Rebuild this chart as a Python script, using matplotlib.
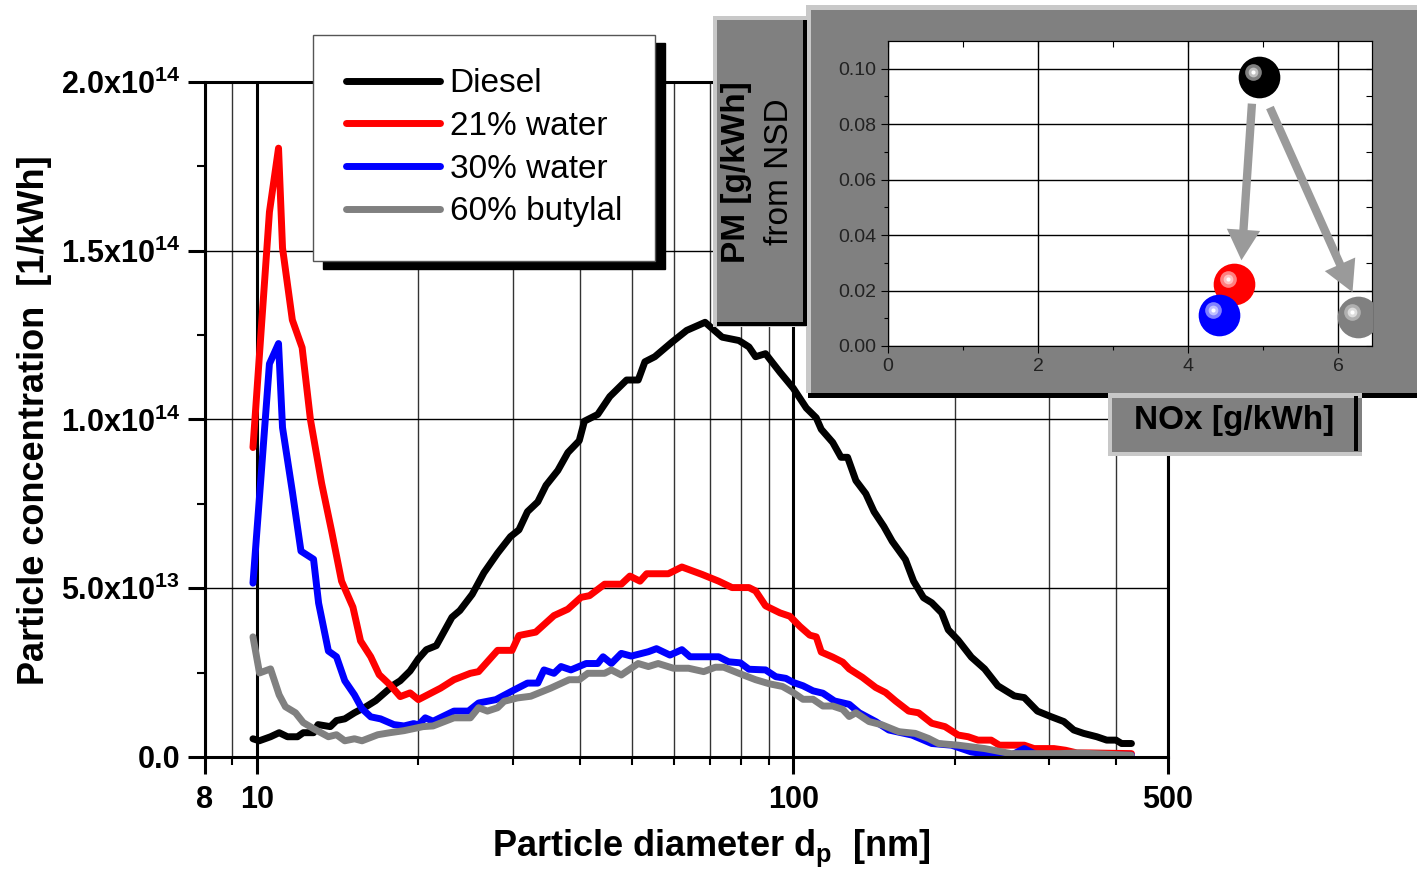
import numpy as np
import matplotlib.pyplot as plt
from matplotlib.patches import Rectangle
from matplotlib.ticker import FixedLocator, NullFormatter
from matplotlib.transforms import offset_copy

plt.rcParams['font.family'] = ['Liberation Sans', 'DejaVu Sans']
plt.rcParams['mathtext.fontset'] = 'custom'
plt.rcParams['mathtext.rm'] = 'Liberation Sans'
plt.rcParams['mathtext.bf'] = 'Liberation Sans:bold'
plt.rcParams['mathtext.it'] = 'Liberation Sans:italic'

# size distributions, diameter in nm, concentration in 1e13 1/kWh
d_diesel = [9.83, 10.1, 10.6, 11.0, 11.4, 11.9, 12.2, 12.75, 13.0, 13.7, 14.07, 14.58, 15.2, 15.97,
            16.65, 17.3, 18.0, 18.5, 19.3, 20.0, 20.7, 21.6, 23.1, 23.9, 25.2, 26.5, 28.1, 29.7, 30.8,
            31.95, 33.4, 34.6, 36.4, 38.0, 39.9, 40.8, 43.2, 45.5, 48.9, 51.4, 52.9, 55.2, 59.4, 63.3,
            68.5, 73.7, 79.2, 82.7, 85.1, 88.8, 94.5, 100, 105.8, 110.4, 112.8, 118.5, 122.8, 126.3,
            130.9, 136.6, 141.5, 147.6, 153, 161.9, 167.7, 175, 181.3, 189.2, 194.6, 203.1, 214.9,
            227.5, 240.8, 258.5, 269.7, 285.4, 302, 319.7, 333.6, 348, 368.3, 384.3, 400, 409.6, 427.4]
n_diesel = [0.54, 0.48, 0.6, 0.72, 0.6, 0.6, 0.72, 0.72, 0.96, 0.9, 1.08, 1.13, 1.31, 1.49,
            1.67, 1.9, 2.14, 2.26, 2.55, 2.91, 3.18, 3.3, 4.14, 4.34, 4.82, 5.46, 6.04, 6.53, 6.73,
            7.27, 7.56, 8.05, 8.49, 9.02, 9.37, 9.95, 10.15, 10.68, 11.17, 11.17, 11.71, 11.86, 12.29, 12.64,
            12.88, 12.44, 12.34, 12.15, 11.86, 11.95, 11.4, 10.93, 10.34, 10.05, 9.71, 9.32, 8.88, 8.88,
            8.19, 7.8, 7.27, 6.83, 6.39, 5.85, 5.21, 4.72, 4.57, 4.27, 3.77, 3.46, 2.96,
            2.61, 2.11, 1.81, 1.76, 1.36, 1.20, 1.05, 0.80, 0.70, 0.60, 0.50, 0.50, 0.40, 0.40]

d_w21 = [9.83, 10.55, 10.97, 11.16, 11.64, 12.14, 12.58, 13.2, 13.78, 14.38, 15.1, 15.6, 16.3, 16.9,
         17.7, 18.5, 19.3, 20.0, 22.0, 23.3, 25.0, 25.9, 28.1, 29.9, 30.8, 33.1, 35.8, 38.0, 40.2,
         41.7, 44.5, 47.8, 49.6, 51.8, 53.3, 58.5, 62.0, 67.6, 72.6, 76.9, 82.7, 85.1, 88.8, 94.5,
         98.6, 102.9, 107.4, 110.4, 112.8, 118.5, 123.7, 127.2, 134.6, 142.5, 148.7, 155.2, 164.2,
         171.3, 181.3, 191.9, 203.1, 212, 221.1, 234, 242.4, 269.7, 281.3, 306.3, 322, 338.2, 357.9, 427.4]
n_w21 = [9.17, 16.15, 18.04, 15.08, 12.95, 12.13, 10.0, 8.11, 6.69, 5.21, 4.44, 3.44, 2.97, 2.44,
         2.14, 1.79, 1.9, 1.7, 2.04, 2.29, 2.48, 2.53, 3.16, 3.16, 3.6, 3.7, 4.19, 4.38, 4.73,
         4.78, 5.12, 5.12, 5.36, 5.21, 5.43, 5.43, 5.63, 5.41, 5.21, 5.02, 5.02, 4.92, 4.48, 4.27,
         4.17, 3.87, 3.61, 3.56, 3.11, 2.96, 2.81, 2.61, 2.36, 2.06, 1.91, 1.66, 1.36,
         1.31, 1.0, 0.9, 0.65, 0.6, 0.5, 0.5, 0.35, 0.35, 0.25, 0.25, 0.2, 0.12, 0.12, 0.1]

d_w30 = [9.83, 10.18, 10.55, 10.97, 11.16, 11.64, 12.08, 12.75, 13.03, 13.59, 14.07, 14.58, 15.2, 15.7,
         16.3, 17.0, 18.0, 18.8, 19.6, 20.0, 20.6, 21.3, 23.3, 24.8, 25.9, 27.9, 30.2, 31.95, 33.4,
         34.3, 35.8, 36.9, 38.5, 41.1, 43.2, 44.2, 45.8, 47.8, 49.9, 53.7, 55.6, 58.9, 62.0, 64.2,
         72.6, 75.8, 79.7, 82.7, 88.8, 92.8, 96.9, 100, 104.3, 108.9, 113.6, 119.4, 127.2, 132.8,
         142.5, 150.8, 166.5, 181.3, 197.4, 214.9, 237.4, 254.8, 269.7, 285.4, 427.4]
n_w30 = [5.15, 8.35, 11.65, 12.25, 9.76, 7.87, 6.1, 5.86, 4.56, 3.14, 2.97, 2.26, 1.84, 1.43,
         1.19, 1.13, 0.96, 0.92, 0.99, 0.95, 1.16, 1.06, 1.36, 1.36, 1.6, 1.7, 1.99, 2.19, 2.19,
         2.58, 2.48, 2.68, 2.58, 2.77, 2.77, 2.97, 2.77, 3.07, 2.99, 3.12, 3.21, 3.02, 3.18, 2.97,
         2.97, 2.82, 2.79, 2.6, 2.58, 2.38, 2.33, 2.21, 2.11, 1.96, 1.89, 1.66, 1.56, 1.31,
         1.05, 0.80, 0.65, 0.4, 0.35, 0.15, 0.05, 0.05, 0.25, 0.05, 0.05]

d_but = [9.83, 10.11, 10.6, 11.0, 11.3, 11.8, 12.2, 12.75, 13.59, 14.07, 14.58, 15.2, 15.7, 16.8,
         17.7, 18.8, 20.4, 21.3, 23.3, 25.0, 25.9, 26.9, 28.1, 28.9, 30.6, 32.4, 35.3, 38.2, 39.9,
         41.4, 44.5, 45.8, 47.8, 51.4, 53.7, 56.0, 59.8, 63.8, 68.1, 71.6, 74.2, 79.2, 85.1, 90.2,
         95.5, 100, 104.3, 108.9, 113.6, 118.5, 123.7, 127.2, 130.9, 138.5, 146.6, 157.4, 168.9,
         178.8, 186.6, 203.1, 227.5, 254.8, 315.2, 338, 427]
n_but = [3.56, 2.49, 2.61, 1.84, 1.49, 1.31, 1.02, 0.84, 0.6, 0.66, 0.48, 0.54, 0.48, 0.66,
         0.72, 0.78, 0.9, 0.92, 1.16, 1.16, 1.46, 1.36, 1.46, 1.65, 1.75, 1.8, 2.04, 2.29, 2.29,
         2.48, 2.48, 2.58, 2.43, 2.77, 2.68, 2.77, 2.63, 2.63, 2.53, 2.66, 2.66, 2.48, 2.29, 2.17,
         2.09, 1.91, 1.71, 1.71, 1.51, 1.51, 1.41, 1.2, 1.31, 1.05, 0.95, 0.75, 0.7,
         0.55, 0.4, 0.35, 0.25, 0.1, 0.1, 0.12, 0.05]

labels = ['Diesel', '21% water', '30% water', '60% butylal']
colors = ['black', '#ff0000', '#0000ff', '#808080']

# inset: NOx vs PM
nox = [4.95, 4.61, 4.41, 6.27]
pm = [0.097, 0.0223, 0.0112, 0.0104]
hl_mid = ['#808080', '#ff8080', '#8080ff', '#b0b0b0']
hl_in = ['#c0c0c0', '#ffc0c0', '#c0c0ff', '#dddddd']

fig = plt.figure(figsize=(14.17, 8.75), dpi=100)
ax = fig.add_axes([205/1417, 1-757/875, 963/1417, 675/875])

for d, n, c, lab in zip([d_diesel, d_w21, d_w30, d_but], [n_diesel, n_w21, n_w30, n_but], colors, labels):
    ax.plot(d, np.array(n)*1e13, color=c, lw=5, label=lab,
            solid_capstyle='round', solid_joinstyle='round')

ax.set_xscale('log')
ax.set_xlim(8, 500)
ax.set_ylim(0, 2e14)
ax.set_xticks([8, 10, 100, 500], labels=['8', '10', '100', '500'], fontsize=22, fontweight='bold')
ax.xaxis.set_minor_locator(FixedLocator([9, 20, 30, 40, 50, 60, 70, 80, 90, 200, 300, 400]))
ax.xaxis.set_minor_formatter(NullFormatter())
ax.set_yticks([0, 5e13, 1e14, 1.5e14, 2e14],
              labels=['0.0', r'$\mathbf{5.0x10^{13}}$', r'$\mathbf{1.0x10^{14}}$',
                      r'$\mathbf{1.5x10^{14}}$', r'$\mathbf{2.0x10^{14}}$'],
              fontsize=22, fontweight='bold')
ax.yaxis.set_minor_locator(FixedLocator([2.5e13, 7.5e13, 1.25e14, 1.75e14]))
ax.tick_params(which='major', direction='out', length=12, width=2.2)
ax.tick_params(axis='x', which='major', pad=8)
ax.tick_params(axis='y', which='major', pad=6)
ax.tick_params(which='minor', direction='out', length=6, width=1.5)
ax.xaxis.grid(True, which='major', color='black', lw=2.2)
ax.xaxis.grid(True, which='minor', color='#333333', lw=1.0)
ax.yaxis.grid(True, which='major', color='black', lw=1.0)
ax.set_axisbelow(True)
for s in ax.spines.values():
    s.set_linewidth(2.2)

leg = ax.legend(loc='upper left', bbox_to_anchor=(313/1417, 1-35/875), bbox_transform=fig.transFigure,
                fontsize=24, fancybox=False, framealpha=1, borderaxespad=0, borderpad=1.0,
                handlelength=2.8, handletextpad=0.3, labelspacing=0.35,
                shadow={'color': 'black', 'alpha': 1, 'ox': 7, 'oy': -6})
leg.get_frame().set_edgecolor('#555555')
leg.get_frame().set_linewidth(1.0)

fig.text(711/1417, 1-848/875, r'Particle diameter d$_\mathbf{p}$  [nm]', fontsize=26,
         fontweight='bold', ha='center', va='center')
fig.text(35/1417, 1-420/875, 'Particle concentration  [1/kWh]', fontsize=26,
         fontweight='bold', ha='center', va='center', rotation=90)

# gray panels behind the inset
ov = fig.add_axes([0, 0, 1, 1], zorder=5)
ov.set_xlim(0, 1417)
ov.set_ylim(875, 0)
ov.axis('off')


def box(x0, y0, x1, y1, c):
    ov.add_patch(Rectangle((x0, y0), x1 - x0, y1 - y0, fc=c, ec='none'))


box(806, 5, 1417, 393, '#c8c8c8')
box(811, 10, 1417, 393, '#808080')
box(808, 393, 1417, 398, 'black')
box(713, 16, 807, 327, '#c8c8c8')
box(717, 20, 803, 322, '#808080')
box(803, 20, 807, 326, 'black')
box(717, 322, 807, 326, 'black')
box(1108, 393, 1362, 456, '#c8c8c8')
box(1112, 398, 1362, 452, '#808080')
box(1354, 396, 1358, 451, 'black')

ov.text(737, 172, 'PM [g/kWh]', rotation=90, ha='center', va='center', fontsize=24, fontweight='bold')
ov.text(779, 172, 'from NSD', rotation=90, ha='center', va='center', fontsize=24)
ov.text(1234, 420, 'NOx [g/kWh]', ha='center', va='center', fontsize=24, fontweight='bold')

ins = fig.add_axes([888/1417, 1-346/875, 484/1417, 305/875], zorder=6)
ins.set_xlim(0, 6.45)
ins.set_ylim(0, 0.11)
ins.set_xticks([0, 2, 4, 6])
ins.xaxis.set_minor_locator(FixedLocator([1, 3, 5]))
ins.set_yticks([0, 0.02, 0.04, 0.06, 0.08, 0.10], labels=['0.00', '0.02', '0.04', '0.06', '0.08', '0.10'])
ins.yaxis.set_minor_locator(FixedLocator([0.01, 0.03, 0.05, 0.07, 0.09]))
ins.tick_params(which='both', direction='out', labelsize=14, labelcolor='#222222', width=0.8)
ins.tick_params(which='major', length=5)
ins.tick_params(which='minor', length=3)
ins.grid(True, which='major', color='black', lw=1.0)
ins.set_axisbelow(True)
for s in ins.spines.values():
    s.set_linewidth(0.8)
sx = ins.secondary_xaxis('top')
sx.set_xticks([0, 2, 4, 6], labels=[])
sx.xaxis.set_minor_locator(FixedLocator([1, 3, 5]))
sx.tick_params(which='both', direction='in', length=4, width=0.8)
sy = ins.secondary_yaxis('right')
sy.set_yticks([0, 0.02, 0.04, 0.06, 0.08, 0.10], labels=[])
sy.yaxis.set_minor_locator(FixedLocator([0.01, 0.03, 0.05, 0.07, 0.09]))
sy.tick_params(which='both', direction='in', length=4, width=0.8)

for (x0, y0, x1, y1) in [(nox[0] - 0.10, 0.0874, nox[1] + 0.10, 0.0309),
                         (nox[0] + 0.14, 0.086, nox[3] - 0.08, 0.0194)]:
    ins.annotate('', xy=(x1, y1), xytext=(x0, y0),
                 arrowprops=dict(arrowstyle='simple,head_length=1.1,head_width=1.2,tail_width=0.3',
                                 mutation_scale=20, fc='#9a9a9a', ec='none', shrinkA=0, shrinkB=0))

hl = offset_copy(ins.transData, fig=fig, x=-6, y=5, units='dots')
for x, y, c, m, i in zip(nox, pm, colors, hl_mid, hl_in):
    ins.plot(x, y, 'o', ms=30, color=c, mec='none', zorder=4)
    ins.plot(x, y, 'o', ms=12, color=m, mec='none', zorder=5, transform=hl)
    ins.plot(x, y, 'o', ms=7, color=i, mec='none', zorder=6, transform=hl)
    ins.plot(x, y, 'o', ms=3, color='white', mec='none', zorder=7, transform=hl)

fig.savefig('out.png', dpi=100)
